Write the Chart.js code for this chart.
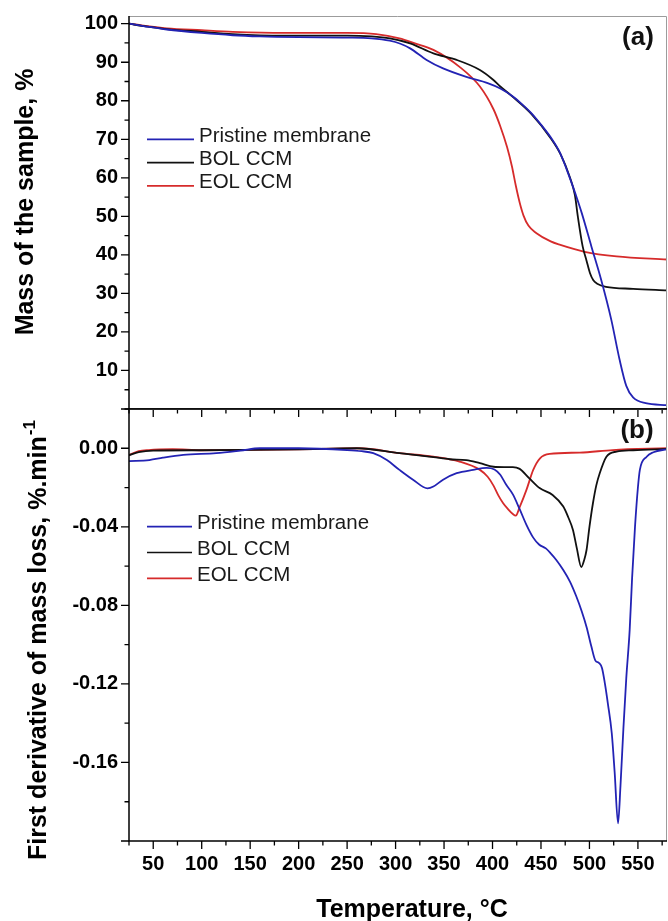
<!DOCTYPE html>
<html>
<head>
<meta charset="utf-8">
<title>TGA / DTG</title>
<script src="https://cdn.jsdelivr.net/npm/chart.js@4.4.1/dist/chart.umd.min.js"></script>
<style>
  body { margin: 0; background: #fff; }
  #wrap { position: relative; width: 668px; height: 921px; overflow: hidden; }
  canvas { position: absolute; left: 0; }
  #tga { top: 0; }
  #dtg { top: 400px; }
</style>
</head>
<body>
<div id="wrap">
  <canvas id="tga" width="668" height="418"></canvas>
  <canvas id="dtg" width="668" height="521"></canvas>
</div>
<script>
// series names
const seriesNames = ['Pristine membrane', 'BOL CCM', 'EOL CCM'];

// tick labels
const tempTicks = [50, 100, 150, 200, 250, 300, 350, 400, 450, 500, 550];
const massTicks = [10, 20, 30, 40, 50, 60, 70, 80, 90, 100];
const dtgTicks = [-0.16, -0.12, -0.08, -0.04, 0.00];

// (a) mass of the sample, % -> [temperature, mass]
const pristineMass = [
  [25, 100], [40, 99.4], [64, 98.5], [100, 97.6], [132, 97.0], [160, 96.7], [200, 96.5],
  [250, 96.4], [275, 96.2], [294, 95.6], [305, 94.8], [315, 93.6], [332, 90.6], [349, 88.4],
  [373, 86.2], [395, 84.6], [408, 83.2], [420, 81.3], [430, 79.2], [440, 76.8], [450, 73.8],
  [460, 70.5], [470, 66.3], [480, 59.8], [486, 55.5], [492, 50.9], [502, 42.2], [512, 33.6],
  [522.5, 23.2], [531, 12.9], [538, 6], [545, 3], [558, 1.5], [580, 1.0]
];
const bolMass = [
  [25, 100], [40, 99.4], [64, 98.6], [100, 97.9], [132, 97.3], [184, 96.9], [250, 96.9],
  [275, 96.7], [294, 96.2], [315, 94.9], [339, 92.3], [363, 90.6], [387, 88.0], [400, 85.6],
  [408, 83.7], [420, 81.2], [440, 76.6], [460, 70.3], [470, 66.2], [480, 60], [485, 55.5],
  [488, 50], [493, 42.2], [497, 38.5], [500.5, 35.3], [504, 33.4], [508, 32.5], [517, 31.7],
  [545, 31.2], [580, 30.8]
];
const eolMass = [
  [25, 100], [64, 98.8], [100, 98.3], [132, 97.9], [184, 97.6], [250, 97.6], [280, 97.3],
  [304, 96.2], [320, 94.9], [339, 93.2], [366, 88.8], [387, 83.7], [401, 77.8], [408, 73.4],
  [415, 68.0], [420, 63.0], [424, 58.0], [428, 53.6], [432, 50.2], [437, 47.6], [445, 45.7],
  [460, 43.5], [470, 42.6], [495, 40.8], [528, 39.6], [580, 38.8]
];

// (b) first derivative of mass loss -> [temperature, dm/dt]
const pristineDtg = [
  [25, -0.0065], [46, -0.006], [60, -0.0048], [81, -0.0034], [115, -0.0025], [140, -0.0012],
  [160, 0], [200, 0], [250, -0.0009], [265, -0.0015], [277, -0.0025], [291, -0.006],
  [304, -0.011], [318, -0.016], [333, -0.0204], [339, -0.0195], [349, -0.016], [363, -0.0127],
  [380, -0.011], [394, -0.0100], [402, -0.0108], [408, -0.0135], [414, -0.0185], [421, -0.0235],
  [428, -0.031], [435, -0.039], [442, -0.0455], [448, -0.049], [455, -0.051], [460, -0.0535],
  [466, -0.057], [473, -0.062], [480, -0.068], [486.5, -0.0755], [492, -0.083], [497, -0.091],
  [502, -0.101], [506, -0.108], [510, -0.1094], [513, -0.112], [516, -0.12], [519, -0.13],
  [523, -0.145], [526, -0.165], [529.5, -0.191], [532, -0.172], [535, -0.143], [538, -0.117],
  [541.5, -0.0925], [544, -0.066], [547, -0.04], [550, -0.02], [552, -0.011], [559, -0.0043],
  [566, -0.002], [580, -0.0005]
];
const bolDtg = [
  [25, -0.0035], [35, -0.002], [50, -0.0012], [100, -0.001], [150, -0.0008], [200, -0.0005],
  [260, 0], [304, -0.0025], [339, -0.0045], [356, -0.0056], [373, -0.006], [387, -0.0076],
  [401, -0.0094], [412, -0.0096], [421, -0.0096], [428, -0.0105], [438, -0.0153], [449, -0.0204],
  [462, -0.0238], [473, -0.0297], [478, -0.035], [483, -0.0416], [487, -0.051], [491.6, -0.0605],
  [494.5, -0.057], [497, -0.0518], [500, -0.040], [503.6, -0.028], [507, -0.019], [510.6, -0.0127],
  [517.5, -0.0043], [528, -0.0017], [545, -0.001], [580, -0.0003]
];
const eolDtg = [
  [25, -0.0034], [35, -0.0015], [45, -0.0009], [70, -0.0005], [100, -0.001], [150, -0.0008],
  [200, -0.0005], [263, 0], [304, -0.0025], [339, -0.0043], [366, -0.0068], [387, -0.011],
  [395, -0.0145], [401, -0.019], [406, -0.024], [411, -0.028], [416, -0.031], [421, -0.0335],
  [424, -0.0343], [428, -0.030], [435, -0.0212], [442, -0.011], [449, -0.0051], [459, -0.0029],
  [490, -0.0022], [524, -0.0009], [580, 0]
];

const colors = ['#2323b4', '#111111', '#d62b2b'];
const FONT = "'Liberation Sans', Arial, sans-serif";

function toPoints(arr) {
  return arr.map(p => ({ x: p[0], y: p[1] }));
}

function makeDatasets(list) {
  return list.map((arr, i) => ({
    label: seriesNames[i],
    data: toPoints(arr),
    borderColor: colors[i],
    borderWidth: 1.8,
    pointRadius: 0,
    cubicInterpolationMode: 'monotone',
    fill: false
  }));
}

// major ticks from the scale, minor ticks half way between
function tickMarks(scale) {
  const vals = scale.ticks.map(t => t.value).sort((a, b) => a - b);
  const step = vals[1] - vals[0];
  const major = [vals[0] - step, ...vals, vals[vals.length - 1] + step];
  const minor = major.map(v => v + step / 2).concat([major[0] - step / 2]);
  const eps = step / 1000;
  const inside = v => v >= scale.min - eps && v <= scale.max + eps;
  return { major: major.filter(inside), minor: minor.filter(inside) };
}

const panelFrame = {
  id: 'panelFrame',
  afterDraw(chart, args, o) {
    const { ctx, chartArea: a } = chart;
    const xs = chart.scales.x, ys = chart.scales.y;
    ctx.save();

    // grey frame on top and right
    ctx.strokeStyle = '#9c9c9c';
    ctx.lineWidth = 1;
    ctx.beginPath();
    ctx.moveTo(a.left, a.top + 0.5);
    ctx.lineTo(a.right - 0.5, a.top + 0.5);
    ctx.lineTo(a.right - 0.5, a.bottom);
    ctx.stroke();

    // axis lines
    ctx.strokeStyle = '#000';
    ctx.lineWidth = 1.5;
    ctx.beginPath();
    if (o.topBlack) {
      ctx.moveTo(a.right, a.top);
      ctx.lineTo(a.left, a.top);
    } else {
      ctx.moveTo(a.left, a.top);
    }
    ctx.lineTo(a.left, a.bottom);
    ctx.lineTo(a.right, a.bottom);
    ctx.stroke();

    // tick marks, outward
    ctx.lineWidth = 1.3;
    const ty = tickMarks(ys), tx = tickMarks(xs);
    ctx.beginPath();
    ty.major.forEach(v => { const p = ys.getPixelForValue(v); ctx.moveTo(a.left - 8, p); ctx.lineTo(a.left, p); });
    ty.minor.forEach(v => { const p = ys.getPixelForValue(v); ctx.moveTo(a.left - 4.5, p); ctx.lineTo(a.left, p); });
    tx.major.forEach(v => { const p = xs.getPixelForValue(v); ctx.moveTo(p, a.bottom); ctx.lineTo(p, a.bottom + 8); });
    tx.minor.forEach(v => { const p = xs.getPixelForValue(v); ctx.moveTo(p, a.bottom); ctx.lineTo(p, a.bottom + 4.5); });
    ctx.stroke();

    // legend inside the plot
    const lg = o.legend;
    ctx.font = '20.5px ' + FONT;
    ctx.textAlign = 'left';
    ctx.textBaseline = 'alphabetic';
    chart.data.datasets.forEach((ds, i) => {
      const y = lg.y + i * lg.dy;
      ctx.strokeStyle = ds.borderColor;
      ctx.lineWidth = 1.7;
      ctx.beginPath();
      ctx.moveTo(lg.x, y);
      ctx.lineTo(lg.x + lg.len, y);
      ctx.stroke();
      ctx.fillStyle = '#1a1a1a';
      ctx.fillText(ds.label, lg.x + lg.len + 5, y + 2.5);
    });

    // panel tag
    ctx.fillStyle = '#111';
    ctx.font = 'bold 26px ' + FONT;
    ctx.textAlign = 'center';
    ctx.textBaseline = 'middle';
    ctx.fillText(o.tag.text, o.tag.x, o.tag.y);

    // y axis title, rotated
    const t = o.yTitle;
    ctx.translate(t.x, t.y);
    ctx.rotate(-Math.PI / 2);
    ctx.font = 'bold 25px ' + FONT;
    ctx.textBaseline = 'alphabetic';
    ctx.textAlign = t.sup ? 'left' : 'center';
    ctx.fillStyle = '#000';
    ctx.fillText(t.text, 0, 0);
    if (t.sup) {
      const w = ctx.measureText(t.text).width;
      ctx.font = 'bold 17px ' + FONT;
      ctx.fillText(t.sup, w + 1, -11);
    }
    ctx.setTransform(1, 0, 0, 1, 0, 0);

    // x axis title
    if (o.xTitle) {
      ctx.font = 'bold 25px ' + FONT;
      ctx.textAlign = 'center';
      ctx.textBaseline = 'alphabetic';
      ctx.fillText(o.xTitle.text, o.xTitle.x, o.xTitle.y);
    }
    ctx.restore();
  }
};

const tickFont = { family: FONT, size: 20, weight: 'bold' };

function yScale(min, max, ticks, fmt) {
  return {
    type: 'linear',
    min: min,
    max: max,
    afterBuildTicks: s => { s.ticks = ticks.slice().sort((a, b) => a - b).map(v => ({ value: v })); },
    afterFit: s => { s.width = 129; },
    // small line height keeps the label overflow from pushing the plot area
    ticks: { callback: fmt, color: '#000', font: Object.assign({ lineHeight: 0.5 }, tickFont), padding: 0 },
    // invisible tick marks only give the labels their offset; the visible ones come from panelFrame
    grid: { display: true, drawOnChartArea: false, drawTicks: true, tickLength: 11, tickColor: 'rgba(0,0,0,0)' },
    border: { display: false }
  };
}

function xScale(showLabels, height) {
  return {
    type: 'linear',
    min: 25,
    max: 580,
    afterBuildTicks: s => { s.ticks = tempTicks.map(v => ({ value: v })); },
    afterFit: s => { s.height = height; },
    ticks: {
      display: showLabels, color: '#000', font: tickFont, padding: 11,
      maxRotation: 0, autoSkip: false, callback: v => String(v)
    },
    grid: { display: false, drawTicks: false },
    border: { display: false }
  };
}

const common = {
  responsive: false,
  animation: false,
  devicePixelRatio: 1,
  events: []
};

new Chart(document.getElementById('tga'), {
  type: 'line',
  data: { datasets: makeDatasets([pristineMass, bolMass, eolMass]) },
  options: Object.assign({}, common, {
    layout: { padding: { top: 16, right: 1, left: 0, bottom: 0 } },
    scales: {
      x: xScale(false, 9),
      y: yScale(0, 102, massTicks, v => String(v))
    },
    plugins: {
      legend: { display: false },
      tooltip: { enabled: false },
      panelFrame: {
        topBlack: false,
        legend: { x: 147, y: 139.3, dy: 23.3, len: 47 },
        tag: { text: '(a)', x: 638, y: 38 },
        yTitle: { text: 'Mass of the sample, %', x: 33, y: 202 }
      }
    }
  }),
  plugins: [panelFrame]
});

new Chart(document.getElementById('dtg'), {
  type: 'line',
  data: { datasets: makeDatasets([pristineDtg, bolDtg, eolDtg]) },
  options: Object.assign({}, common, {
    layout: { padding: { top: 9, right: 1, left: 0, bottom: 0 } },
    scales: {
      x: xScale(true, 80),
      y: yScale(-0.2, 0.02, dtgTicks, v => (Math.abs(v) < 1e-9 ? 0 : v).toFixed(2))
    },
    plugins: {
      legend: { display: false },
      tooltip: { enabled: false },
      panelFrame: {
        topBlack: true,
        legend: { x: 147, y: 126.7, dy: 25.8, len: 45 },
        tag: { text: '(b)', x: 637, y: 31 },
        yTitle: { text: 'First derivative of mass loss, %.min', sup: '-1', x: 46, y: 460 },
        xTitle: { text: 'Temperature, \u00b0C', x: 412, y: 517 }
      }
    }
  }),
  plugins: [panelFrame]
});
</script>
</body>
</html>
